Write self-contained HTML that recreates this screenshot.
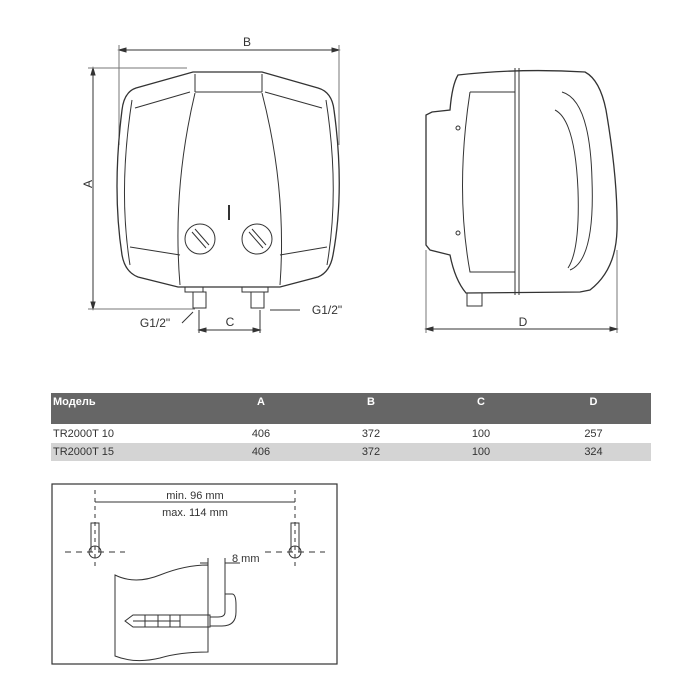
<!DOCTYPE html>
<html><head><style>
body{margin:0;width:700px;height:700px;background:#fff;font-family:"Liberation Sans",Arial,sans-serif;overflow:hidden}
svg{position:absolute;left:0;top:0}
.t{position:absolute;left:51px;top:393px;width:600px;border-collapse:collapse;table-layout:fixed;font-size:11px;font-family:"Liberation Sans Narrow","Liberation Sans",sans-serif}
.t td{padding:0}
</style></head><body>
<svg width="700" height="700" viewBox="0 0 700 700" fill="none" stroke="#333" stroke-width="1">
<line x1="119" y1="50" x2="339" y2="50"/>
<polygon points="119,50 126,48 126,52" fill="#333"/><polygon points="339,50 332,48 332,52" fill="#333"/>
<line x1="119" y1="45" x2="119" y2="145" stroke="#777"/><line x1="339" y1="45" x2="339" y2="145" stroke="#777"/>
<text x="247" y="46" font-size="12" fill="#333" stroke="none" text-anchor="middle">B</text>
<line x1="93" y1="68" x2="93" y2="309"/>
<polygon points="93,68 91,75 95,75" fill="#333"/><polygon points="93,309 91,302 95,302" fill="#333"/>
<line x1="88" y1="68" x2="187" y2="68" stroke="#777"/><line x1="88" y1="309" x2="195" y2="309" stroke="#777"/>
<text x="88" y="188" font-size="12" fill="#333" stroke="none" text-anchor="middle" transform="rotate(-90 88 184)">A</text>
<path d="M193,72 L262,72 L318,88 Q332,92 334,110 Q345,190 333,255 Q330,272 318,277 L280,287 L178,287 L138,277 Q125,272 122,255 Q112,190 122,110 Q124,92 136,88 Z" stroke-width="1.3"/>
<path d="M132,100 Q118,190 130,265" /><path d="M326,100 Q340,190 327,265"/>
<path d="M135,108 L190,92 M265,92 L322,108"/>
<path d="M130,247 L180,255 M280,255 L327,247"/>
<path d="M195,92 L262,92"/>
<path d="M195,74 L195,92 M262,74 L262,92"/>
<path d="M195,93 Q172,190 180,285 M262,93 Q287,190 280,285"/>
<circle cx="200" cy="239" r="15"/><circle cx="257" cy="239" r="15"/>
<path d="M192,232 L206,248 M195,229 L209,245 M249,232 L263,248 M252,229 L266,245"/>
<line x1="229" y1="205" x2="229" y2="220" stroke-width="2"/>
<rect x="185" y="287" width="18" height="5"/><rect x="242" y="287" width="26" height="5"/>
<rect x="193" y="292" width="13" height="16"/><rect x="251" y="292" width="13" height="16"/>
<line x1="199" y1="310" x2="199" y2="333"/><line x1="260" y1="310" x2="260" y2="333"/>
<line x1="199" y1="330" x2="260" y2="330"/>
<polygon points="199,330 206,328 206,332" fill="#333"/><polygon points="260,330 253,328 253,332" fill="#333"/>
<text x="230" y="326" font-size="12" fill="#333" stroke="none" text-anchor="middle">C</text>
<line x1="182" y1="323" x2="193" y2="312"/>
<line x1="270" y1="310" x2="300" y2="310"/>
<text x="155" y="327" font-size="12" fill="#333" stroke="none" text-anchor="middle">G1/2"</text>
<text x="327" y="314" font-size="12" fill="#333" stroke="none" text-anchor="middle">G1/2"</text>
<path d="M458,75 Q520,68 585,72 Q600,80 606,110 Q618,180 617,230 Q616,270 590,290 L580,292 L466,293 Q455,280 450,255 L430,250 L426,245 L426,115 L432,112 L450,110 Q452,85 458,75 Z" stroke-width="1.3"/>
<path d="M515,68 L515,295 M519,68 L519,295"/>
<path d="M470,92 L515,92 M470,92 Q455,190 470,272 L515,272"/>
<path d="M562,92 Q590,100 592,180 Q595,260 570,270"/>
<path d="M555,110 Q575,120 578,190 Q580,250 568,268"/>
<circle cx="458" cy="128" r="2"/><circle cx="458" cy="233" r="2"/>
<rect x="467" y="293" width="15" height="13"/>
<line x1="426" y1="250" x2="426" y2="333" stroke="#777"/><line x1="617" y1="250" x2="617" y2="333" stroke="#777"/>
<line x1="426" y1="329" x2="617" y2="329"/>
<polygon points="426,329 433,327 433,331" fill="#333"/><polygon points="617,329 610,327 610,331" fill="#333"/>
<text x="523" y="326" font-size="12" fill="#333" stroke="none" text-anchor="middle">D</text>
<rect x="52" y="484" width="285" height="180" stroke-width="1.2"/>
<line x1="95" y1="490" x2="95" y2="570" stroke-dasharray="4,4"/>
<line x1="295" y1="490" x2="295" y2="570" stroke-dasharray="4,4"/>
<line x1="95" y1="502" x2="295" y2="502"/>
<text x="195" y="499" font-size="11" fill="#333" stroke="none" text-anchor="middle">min. 96 mm</text>
<text x="195" y="516" font-size="11" fill="#333" stroke="none" text-anchor="middle">max. 114 mm</text>
<line x1="65" y1="552" x2="125" y2="552" stroke-dasharray="6,5"/>
<line x1="265" y1="552" x2="325" y2="552" stroke-dasharray="6,5"/>
<path d="M91,552 L91,523 L99,523 L99,552"/><circle cx="95" cy="552" r="6"/>
<path d="M291,552 L291,523 L299,523 L299,552"/><circle cx="295" cy="552" r="6"/>
<path d="M115,575 Q135,585 160,575 Q185,565 208,565 L208,652 Q180,652 160,658 Q135,664 115,656 Z"/>
<path d="M200,563 L208,563 M225,563 L240,563"/>
<line x1="208" y1="558" x2="208" y2="566"/><line x1="225" y1="558" x2="225" y2="600"/>
<text x="232" y="562" font-size="11" fill="#333" stroke="none">8 mm</text>
<path d="M225,594 L232,594 Q236,594 236,605 L236,612 Q236,626 222,626 L210,626"/>
<path d="M225,600 L225,612 Q225,617 218,617 L210,617"/>
<path d="M125,621 L133,615 L210,615 L210,627 L133,627 Z"/>
<path d="M145,615 L145,627 M158,615 L158,627 M170,615 L170,627 M180,615 L180,627 M133,621 L180,621"/>
</svg>
<table class="t">
<colgroup><col style="width:155px"><col style="width:110px"><col style="width:110px"><col style="width:110px"><col style="width:115px"></colgroup>
<tr style="background:#666;color:#fff;font-weight:bold;height:31px;vertical-align:top"><td style="padding:3px 2px">Модель</td><td style="text-align:center;padding-top:3px">A</td><td style="text-align:center;padding-top:3px">B</td><td style="text-align:center;padding-top:3px">C</td><td style="text-align:center;padding-top:3px">D</td></tr>
<tr style="height:19px;color:#333"><td style="padding:0 2px">TR2000T 10</td><td align="center">406</td><td align="center">372</td><td align="center">100</td><td align="center">257</td></tr>
<tr style="height:18px;background:#d4d4d4;color:#333"><td style="padding:0 2px">TR2000T 15</td><td align="center">406</td><td align="center">372</td><td align="center">100</td><td align="center">324</td></tr>
</table>
</body></html>
